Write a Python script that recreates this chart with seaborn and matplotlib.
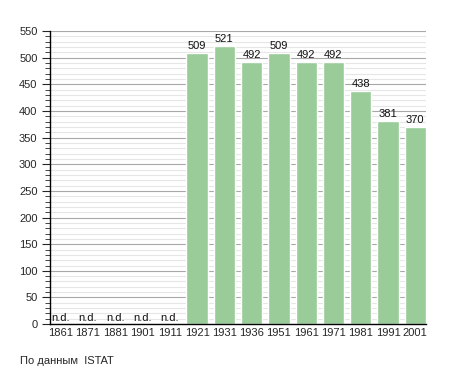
import matplotlib
matplotlib.use('Agg')
import matplotlib.pyplot as plt
from matplotlib.ticker import MultipleLocator
import seaborn as sns
import pandas as pd

# Population by census year (n.d. = no data)
years = ['1861', '1871', '1881', '1901', '1911', '1921', '1931',
         '1936', '1951', '1961', '1971', '1981', '1991', '2001']
population = [None, None, None, None, None, 509, 521,
              492, 509, 492, 492, 438, 381, 370]
source_note = 'По данным  ISTAT'

df = pd.DataFrame({'year': years, 'pop': population})
df['value'] = df['pop'].fillna(0)

sns.set_style('white')
plt.rcParams['font.family'] = ['Liberation Sans', 'DejaVu Sans']

fig = plt.figure(figsize=(4.55, 3.73), dpi=100)
ax = fig.add_axes([0.11, 0.131, 0.826, 0.786])

# Grid first so bars sit on top
ax.yaxis.set_major_locator(MultipleLocator(50))
ax.yaxis.set_minor_locator(MultipleLocator(10))
ax.grid(axis='y', which='major', color='#a8a8a8', linewidth=0.8, zorder=0)
ax.grid(axis='y', which='minor', color='#e6e6e6', linewidth=0.8, zorder=0)
ax.set_axisbelow(True)

sns.barplot(data=df, x='year', y='value', color='#99cc99', saturation=1,
            width=0.78, ax=ax, zorder=2)

fs = 8
for i, v in enumerate(df['pop']):
    if pd.isna(v):
        ax.text(i, 3, 'n.d.', ha='center', va='bottom', fontsize=fs, color='#111111')
    else:
        ax.text(i, v + 4, str(int(v)), ha='center', va='bottom', fontsize=fs, color='#111111')

ax.set_xlim(-0.39, len(years) - 1 + 0.39)
ax.set_ylim(0, 550)
ax.set_xlabel('')
ax.set_ylabel('')

for side in ['top', 'right']:
    ax.spines[side].set_visible(False)
for side in ['left', 'bottom']:
    ax.spines[side].set_color('black')
    ax.spines[side].set_linewidth(1)

ax.tick_params(axis='x', length=0, labelsize=fs, pad=3)
ax.tick_params(axis='y', which='major', length=6, width=0.8, direction='out', labelsize=fs, pad=3, left=True)
ax.tick_params(axis='y', which='minor', length=3.5, width=0.6, direction='out', left=True)

fig.text(20 / 455, 1 - 361 / 373, source_note, fontsize=fs, va='center', ha='left')

fig.savefig('out.png', dpi=100)
